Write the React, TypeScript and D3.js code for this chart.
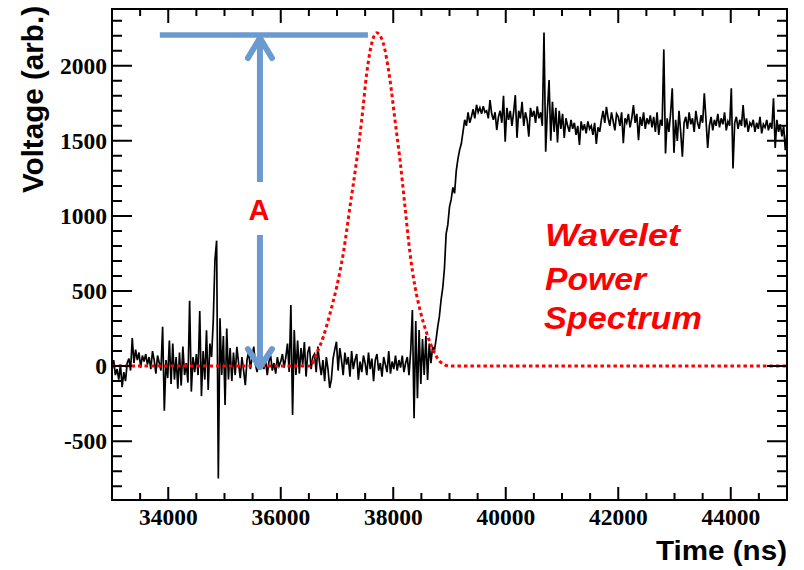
import React from 'react';
import * as d3 from 'd3';

// ---------- data ----------
const T0 = 33000; // ns, first sample time
const DT = 30; // ns, sample spacing
const waveform = [
  -30, 40, -60, -20, -90, 10, -140, -40, -100, 20,
  50, -30, 186, 20, 110, 40, 90, -10, 70, 30,
  80, 10, 60, -20, 100, 40, -50, 70, 20, -30,
  262, -298, 40, -80, 170, -120, 150, -90, 60, -150,
  90, -130, 130, -60, 20, -110, 435, -170, 60, -40,
  80, -60, 366, -200, 100, -90, 238, -160, 150, 60,
  300, 706, 835, -748, 318, -60, 200, -260, 250, -90,
  120, -100, 90, -60, 128, 20, -80, 60, -30, -127,
  40, 100, -20, 60, 130, 10, -40, 80, 20, 50,
  -20, 40, -60, 30, 70, -30, 20, -50, 60, 0,
  30, 80, -10, 60, 150, -40, 406, -326, 240, -60,
  170, -50, 120, 10, 160, -70, 90, 130, -20, 60,
  80, -40, 130, 20, -60, 40, -100, 60, -20, -146,
  -90, 50, 110, 162, -30, 120, 40, -60, 90, 10,
  60, -70, 100, -20, 40, 80, -90, 30, -40, 70,
  20, -60, 90, -20, 50, -100, 40, 80, -30, 20,
  -70, 60, 10, -40, 100, -50, 30, -20, 70, -30,
  40, -10, 70, -40, 20, 60, -60, 100, 373, -348,
  300, -215, 240, -120, 180, -60, 200, -93, 150, 20,
  129, 100, 173, 260, 330, 440, 520, 650, 880, 940,
  1060, 1110, 1190, 1150, 1300, 1380, 1440, 1480, 1560, 1640,
  1600, 1690, 1620, 1660, 1710, 1650, 1740, 1690, 1720, 1680,
  1730, 1690, 1700, 1650, 1772, 1680, 1640, 1690, 1572, 1660,
  1700, 1620, 1800, 1494, 1720, 1640, 1700, 1600, 1690, 1805,
  1520, 1700, 1650, 1760, 1600, 1690, 1640, 1527, 1720, 1660,
  1700, 1620, 1730, 1650, 1690, 1600, 2222, 1427, 1700, 1905,
  1500, 1760, 1560, 1720, 1490, 1700, 1580, 1680, 1520, 1650,
  1600, 1560, 1640, 1580, 1620, 1540, 1600, 1472, 1630, 1570,
  1610, 1550, 1630, 1580, 1600, 1540, 1620, 1480, 1590, 1560,
  1640, 1700, 1620, 1727, 1650, 1600, 1690, 1630, 1570, 1680,
  1660, 1600, 1690, 1485, 1650, 1620, 1680, 1590, 1650, 1738,
  1620, 1680, 1505, 1660, 1600, 1690, 1580, 1650, 1610, 1670,
  1590, 1660, 1560, 1690, 1540, 1640, 1600, 2109, 1416, 1650,
  1560, 1680, 1850, 1420, 1640, 1500, 1700, 1560, 1394, 1620,
  1660, 1580, 1690, 1610, 1650, 1560, 1700, 1620, 1580, 1670,
  1620, 1816, 1640, 1452, 1600, 1660, 1570, 1640, 1600, 1680,
  1590, 1650, 1610, 1690, 1570, 1630, 1600, 1850, 1316, 1620,
  1660, 1580, 1640, 1600, 1738, 1590, 1650, 1560, 1620, 1600,
  1640, 1560, 1620, 1580, 1660, 1550, 1610, 1590, 1640, 1570,
  1620, 1580, 1783, 1452, 1640, 1560, 1610, 1530, 1600, 1438, 1560,
];

const waveletTimes = [
  33000, 36520, 36639, 36757, 36876, 36995, 37112, 37231, 37350, 37439, 37528, 37617, 37706,
  37823, 37942, 38031, 38120, 38209, 38298, 38387, 38476, 38595, 38712, 38831, 39009, 45000,
];
const waveletValues = [
  0, 0, 85, 195, 351, 528, 751, 1061, 1372, 1638, 1949, 2149, 2220,
  2149, 1905, 1638, 1372, 1061, 751, 528, 373, 218, 107, 29, 0, 0,
];

const xDomain = [33000, 45000];
const yDomain = [-892, 2378];
const xTickValues = [34000, 36000, 38000, 40000, 42000, 44000];
const yTickValues = [-500, 0, 500, 1000, 1500, 2000];
const xTitle = 'Time (ns)';
const yTitle = 'Voltage (arb.)';
const noteLines = ['Wavelet', 'Power', 'Spectrum'];
const ampLabel = 'A';

// annotation anchor (data units)
const arrowTime = 35630;
const arrowTopV = 2205;
const arrowBottomV = -20;
const barStart = 33850;
const barEnd = 37550;

const SERIF = 'Liberation Serif, Tinos, Times New Roman, DejaVu Serif, serif';
const SANS = 'Liberation Sans, Arimo, Arial, Helvetica, sans-serif';

export default function App() {
  const W = 804;
  const H = 570;
  const L = 112, R = 787, T = 9, B = 500;
  const x = d3.scaleLinear().domain(xDomain).range([L, R]);
  const y = d3.scaleLinear().domain(yDomain).range([B, T]);

  const wavePts: [number, number][] = waveform.map((v, i) => [T0 + i * DT, v]);
  const line = d3.line<[number, number]>().x((d) => x(d[0])).y((d) => y(d[1]));
  const wavePath = line(wavePts) || '';
  const redPts: [number, number][] = waveletTimes.map((t, i) => [t, waveletValues[i]]);
  const redPath =
    d3.line<[number, number]>().x((d) => x(d[0])).y((d) => y(d[1])).curve(d3.curveMonotoneX)(redPts) || '';

  const xMinor = d3.range(33000, 45001, 500).filter((v) => v % 2000 !== 0);
  const yMinor = d3.range(-800, 2301, 100).filter((v) => v % 500 !== 0);

  let ticks = '';
  xTickValues.forEach((v) => {
    const px = x(v);
    ticks += `M${px},${B}V${B - 13}M${px},${T}V${T + 14}`;
  });
  xMinor.forEach((v) => {
    const px = x(v);
    ticks += `M${px},${B}V${B - 7}M${px},${T}V${T + 7}`;
  });
  yTickValues.forEach((v) => {
    const py = y(v);
    ticks += `M${L},${py}H${L + 20}M${R},${py}H${R - 20}`;
  });
  yMinor.forEach((v) => {
    const py = y(v);
    ticks += `M${L},${py}H${L + 10}M${R},${py}H${R - 10}`;
  });

  const ax = x(arrowTime);
  const aTop = y(arrowTopV);
  const aBot = y(arrowBottomV);
  const blue = '#6b9ad0';
  const labelY = 220;

  return (
    <svg
      width={W}
      height={H}
      style={{ position: 'absolute', left: 0, top: 0, display: 'block', background: '#fff' }}
    >
      <defs>
        <clipPath id="plotClip">
          <rect x={L} y={T} width={R - L} height={B - T} />
        </clipPath>
        <filter id="shadow" x="-10%" y="-50%" width="120%" height="300%">
          <feGaussianBlur stdDeviation="1.5" />
        </filter>
      </defs>
      <rect x={0} y={0} width={W} height={H} fill="#fff" />

      <g clipPath="url(#plotClip)">
        <path d={wavePath} fill="none" stroke="#000" strokeWidth={1.7} strokeLinejoin="miter" />
        <path d={redPath} fill="none" stroke="#ff0000" strokeWidth={3} strokeDasharray="3.5 3" />
      </g>

      {/* frame + ticks */}
      <rect x={L} y={T} width={R - L} height={B - T} fill="none" stroke="#000" strokeWidth={2} />
      <path d={ticks} stroke="#000" strokeWidth={2} fill="none" />

      {/* tick labels */}
      <g style={{ fontFamily: SERIF, fontWeight: 700 }} fontSize={23.5} fill="#000">
        {xTickValues.map((v) => (
          <text key={'x' + v} x={x(v)} y={525} textAnchor="middle">
            {String(v)}
          </text>
        ))}
        {yTickValues.map((v) => (
          <text key={'y' + v} x={107} y={y(v) + 8} textAnchor="end">
            {String(v)}
          </text>
        ))}
      </g>

      {/* axis titles */}
      <g style={{ fontFamily: SANS, fontWeight: 700 }} fill="#000">
        <text x={787} y={560} textAnchor="end" fontSize={27} textLength={131} lengthAdjust="spacingAndGlyphs">
          {xTitle}
        </text>
        <text
          transform="translate(43,6) rotate(-90)"
          textAnchor="end"
          fontSize={29}
          textLength={187}
          lengthAdjust="spacingAndGlyphs"
        >
          {yTitle}
        </text>
      </g>

      {/* annotation: amplitude arrow */}
      <g filter="url(#shadow)" opacity={0.35}>
        <line x1={x(barStart)} x2={x(barEnd)} y1={aTop + 3} y2={aTop + 3} stroke="#555" strokeWidth={5} />
      </g>
      <line x1={x(barStart)} x2={x(barEnd)} y1={aTop} y2={aTop} stroke={blue} strokeWidth={5.5} />
      <g stroke={blue} strokeWidth={6} strokeLinecap="round" strokeLinejoin="round" fill="none">
        <line x1={ax} x2={ax} y1={aTop + 2} y2={aBot - 2} />
        <polyline points={`${ax - 12},${aTop + 23} ${ax},${aTop + 3} ${ax + 12},${aTop + 23}`} />
        <polyline points={`${ax - 12},${aBot - 20} ${ax},${aBot - 2} ${ax + 12},${aBot - 20}`} />
      </g>
      <rect x={ax - 16} y={182} width={32} height={53} fill="#fff" />
      <text
        x={ax - 1}
        y={labelY}
        textAnchor="middle"
        style={{ fontFamily: SANS, fontWeight: 700 }}
        fontSize={29}
        fill="#ff0000"
      >
        {ampLabel}
      </text>

      {/* wavelet label */}
      <g style={{ fontFamily: SANS, fontWeight: 700, fontStyle: 'italic' }} fontSize={32} fill="#ff0000">
        <text x={545} y={246} textLength={135} lengthAdjust="spacingAndGlyphs">
          {noteLines[0]}
        </text>
        <text x={545} y={290} textLength={101} lengthAdjust="spacingAndGlyphs">
          {noteLines[1]}
        </text>
        <text x={544} y={329} textLength={158} lengthAdjust="spacingAndGlyphs">
          {noteLines[2]}
        </text>
      </g>
    </svg>
  );
}
